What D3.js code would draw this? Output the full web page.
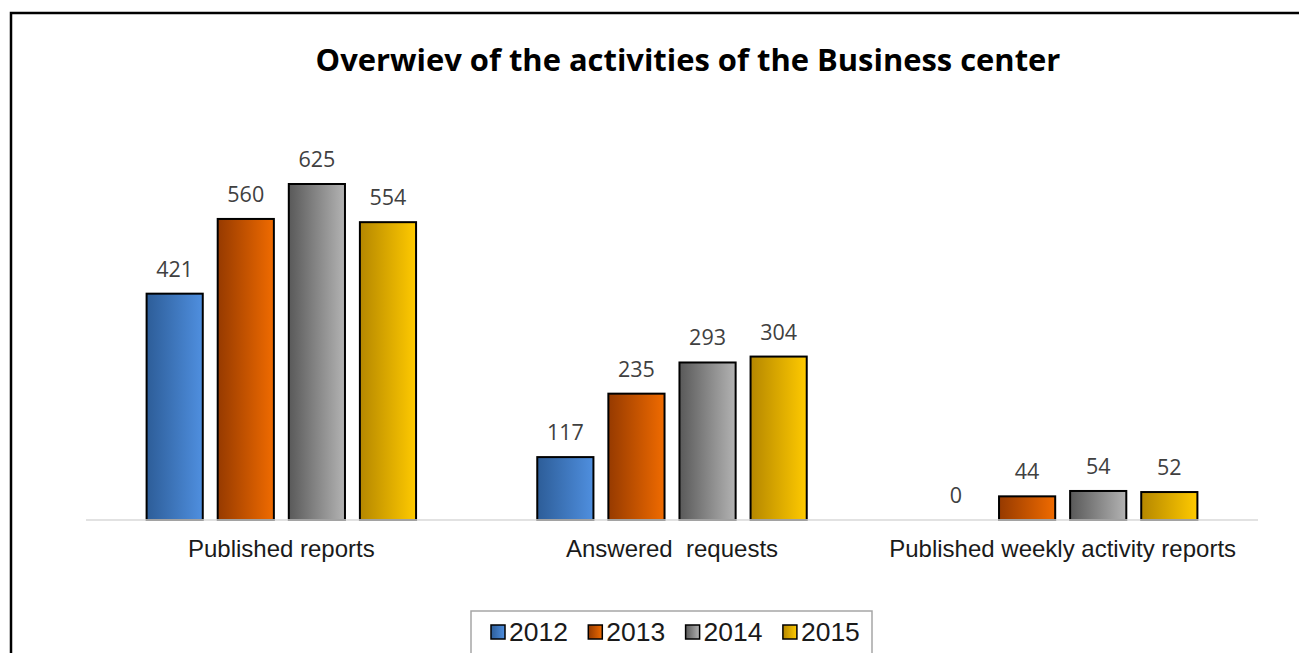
<!DOCTYPE html>
<html><head><meta charset="utf-8">
<script src="https://cdn.jsdelivr.net/npm/d3@7"></script>
<style>body{margin:0;background:#fff}svg{display:block}</style>
</head><body>
<svg id="chart" width="1299" height="653"></svg>
<script>
const categories = ["Published reports", "Answered  requests", "Published weekly activity reports"];
const years = ["2012", "2013", "2014", "2015"];
const values2012 = [421, 117, 0];
const values2013 = [560, 235, 44];
const values2014 = [625, 293, 54];
const values2015 = [554, 304, 52];
const seriesValues = [values2012, values2013, values2014, values2015];
const gradStops = [["#2d5d98", "#4f8fdf"], ["#963a00", "#f06b00"], ["#595959", "#b3b3b3"], ["#b58700", "#ffca00"]];
const title = "Overwiev of the activities of the Business center";

const svg = d3.select("#chart");
const defs = svg.append("defs");
years.forEach((y, i) => {
  const g = defs.append("linearGradient").attr("id", "g" + i).attr("x1", "0").attr("x2", "1").attr("y1", "0").attr("y2", "0");
  g.append("stop").attr("offset", "0").attr("stop-color", gradStops[i][0]);
  g.append("stop").attr("offset", "1").attr("stop-color", gradStops[i][1]);
});

// frame
svg.append("path").attr("d", "M11,653 V13 H1299").attr("fill", "none").attr("stroke", "#000").attr("stroke-width", 2.5);

const x0 = d3.scaleBand().domain(categories).range([86, 1258]).padding(0);
const x1 = d3.scaleBand().domain(years).range([60.6, x0.bandwidth() - 60.6]).paddingInner(0.21).paddingOuter(0);
const y = d3.scaleLinear().domain([0, 700]).range([520, 520 - 700 * 0.5376]);

const data = [];
categories.forEach((c, ci) => years.forEach((yr, yi) => data.push({c, yi, yr, v: seriesValues[yi][ci]})));

svg.append("g").selectAll("rect").data(data.filter(d => d.v > 0)).join("rect")
  .attr("x", d => x0(d.c) + x1(d.yr))
  .attr("y", d => y(d.v))
  .attr("width", x1.bandwidth())
  .attr("height", d => y(0) - y(d.v))
  .attr("fill", d => `url(#g${d.yi})`)
  .attr("stroke", "#000").attr("stroke-width", 2);

svg.append("line").attr("x1", 86).attr("x2", 1258).attr("y1", y(0)).attr("y2", y(0)).attr("stroke", "#d9d9d9").attr("stroke-width", 1.5);

svg.append("g").selectAll("text").data(data).join("text")
  .attr("x", d => x0(d.c) + x1(d.yr) + x1.bandwidth() / 2)
  .attr("y", d => y(d.v) - 17)
  .attr("text-anchor", "middle")
  .attr("font-family", "Open Sans, sans-serif").attr("font-size", 21.5).attr("fill", "#404040")
  .text(d => d.v);

svg.append("g").selectAll("text").data(categories).join("text")
  .attr("x", d => x0(d) + x0.bandwidth() / 2)
  .attr("y", 557)
  .attr("text-anchor", "middle").style("white-space", "pre")
  .attr("font-family", "Liberation Sans, Arial, sans-serif").attr("font-size", 24).attr("fill", "#1a1a1a")
  .text(d => d);

const t = svg.append("text").attr("x", 688).attr("y", 71).attr("text-anchor", "middle")
  .attr("font-family", "Open Sans, sans-serif").attr("font-weight", "bold").attr("font-size", 30).attr("fill", "#000")
  .text(title);
const tw = t.node().getComputedTextLength();
t.attr("font-size", 30 * 745 / tw);

// legend
const lg = svg.append("g");
lg.append("rect").attr("x", 471).attr("y", 611).attr("width", 401).attr("height", 45).attr("fill", "#fff").attr("stroke", "#a6a6a6").attr("stroke-width", 1.5);
const li = lg.selectAll("g").data(years).join("g").attr("transform", (d, i) => `translate(${491 + i * 97.3},0)`);
li.append("rect").attr("x", 0).attr("y", 625).attr("width", 14).attr("height", 14)
  .attr("fill", (d, i) => `url(#g${i})`).attr("stroke", "#000").attr("stroke-width", 1.5);
li.append("text").attr("x", 18).attr("y", 641).attr("font-family", "Liberation Sans, Arial, sans-serif").attr("font-size", 26.5).attr("fill", "#1a1a1a").text(d => d);
</script>
</body></html>
